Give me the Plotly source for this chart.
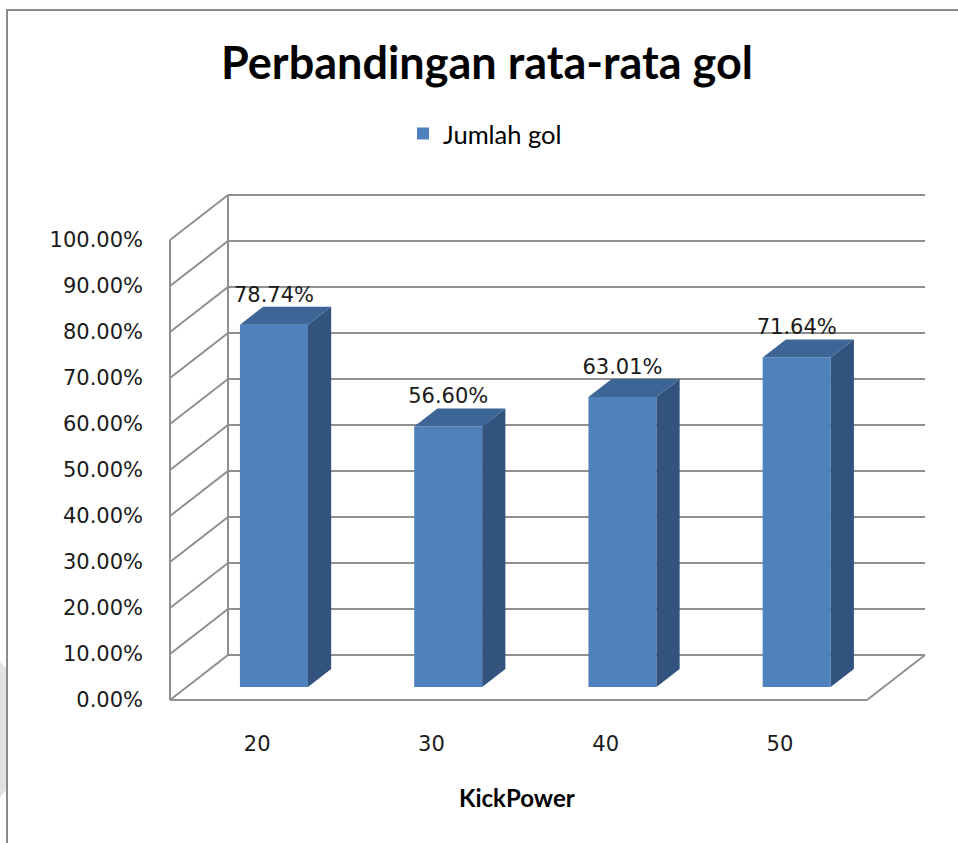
import plotly.graph_objects as go

# ---------------- data ----------------
categories = ["20", "30", "40", "50"]
values = [0.7874, 0.5660, 0.6301, 0.7164]
series_name = "Jumlah gol"
y_ticks = [i / 10 for i in range(11)]
y_tick_labels = [f"{v:.2%}" for v in y_ticks]
title_text = "Perbandingan rata-rata gol"
x_title = "KickPower"

# ---------------- geometry (styling) ----------------
W, H = 958, 843
PX_CAT = 174.25          # pixels per category
PX_UNIT = 460.0          # pixels per 100%
DEPTH_PX = (58, 45)      # pseudo-3D depth offset in pixels
FRONT_LEFT, FRONT_BOTTOM = 170, 700
PAD = 8

dx = DEPTH_PX[0] / PX_CAT
dy = DEPTH_PX[1] / PX_UNIT
n = len(categories)
xs = list(range(n))

x_lo = -0.5 - PAD / PX_CAT
x_hi = n - 0.5 + dx + PAD / PX_CAT
y_lo = -PAD / PX_UNIT
y_hi = 1 + dy + PAD / PX_UNIT

m_l = FRONT_LEFT - PAD
m_r = W - (FRONT_LEFT + n * PX_CAT + DEPTH_PX[0] + PAD)
m_b = H - (FRONT_BOTTOM + PAD)
m_t = FRONT_BOTTOM - PX_UNIT - DEPTH_PX[1] - PAD
plot_w = W - m_l - m_r
plot_h = H - m_t - m_b


def paper_x(px):
    return (px - m_l) / plot_w


def paper_y(py):
    return (H - m_b - py) / plot_h


front_col = "#4F81BD"
side_col = "#31537E"
top_col = "#3D6595"
grid_col = "#8F8F8F"
text_col = "#1A1A1A"

bar_front = 0.29   # fraction of depth where bar front sits
bar_depth = 0.40   # fraction of depth the bar occupies
bar_w = 68 / PX_CAT

bx = [x + bar_front * dx for x in xs]
base = bar_front * dy
ddx, ddy = bar_depth * dx, bar_depth * dy

fig = go.Figure()

# front faces
fig.add_trace(go.Bar(
    x=bx, y=values, base=base, width=bar_w, name=series_name,
    marker=dict(color=front_col, line=dict(width=0)), showlegend=True,
    hoverinfo="skip",
))

# side & top faces
sx, sy, tx, ty = [], [], [], []
for c, v in zip(bx, values):
    xl, xr = c - bar_w / 2, c + bar_w / 2
    yb, yt = base, base + v
    sx += [xr, xr + ddx, xr + ddx, xr, xr, None]
    sy += [yb, yb + ddy, yt + ddy, yt, yb, None]
    tx += [xl, xr, xr + ddx, xl + ddx, xl, None]
    ty += [yt, yt, yt + ddy, yt + ddy, yt, None]
fig.add_trace(go.Scatter(x=sx, y=sy, mode="lines", fill="toself", fillcolor=side_col,
                         line=dict(width=0, color=side_col), showlegend=False, hoverinfo="skip"))
fig.add_trace(go.Scatter(x=tx, y=ty, mode="lines", fill="toself", fillcolor=top_col,
                         line=dict(width=0, color=top_col), showlegend=False, hoverinfo="skip"))

# data labels
fig.add_trace(go.Scatter(
    x=bx, y=[base + v + ddy for v in values], mode="text",
    text=[f"{v:.2%}" for v in values], textposition="top center",
    textfont=dict(family="DejaVu Sans", size=21, color=text_col),
    showlegend=False, hoverinfo="skip",
))

# walls / gridlines
shapes = []
line = dict(color=grid_col, width=2)
left = -0.5
right = n - 0.5
for v in y_ticks:
    shapes.append(dict(type="line", xref="x", yref="y", x0=left + dx, y0=v + dy,
                       x1=right + dx, y1=v + dy, line=line, layer="below"))
    shapes.append(dict(type="line", xref="x", yref="y", x0=left, y0=v,
                       x1=left + dx, y1=v + dy, line=line, layer="below"))
shapes.append(dict(type="line", xref="x", yref="y", x0=left, y0=0, x1=left, y1=1, line=line, layer="below"))
shapes.append(dict(type="line", xref="x", yref="y", x0=left + dx, y0=dy, x1=left + dx, y1=1 + dy,
                   line=line, layer="below"))
shapes.append(dict(type="line", xref="x", yref="y", x0=left, y0=0, x1=right, y1=0, line=line, layer="below"))
shapes.append(dict(type="line", xref="x", yref="y", x0=right, y0=0, x1=right + dx, y1=dy, line=line, layer="below"))

# outer chart border
shapes.append(dict(type="rect", xref="paper", yref="paper",
                   x0=paper_x(7), y0=paper_y(H + 10), x1=paper_x(W + 10), y1=paper_y(10),
                   line=dict(color="#8A8A8A", width=2), fillcolor="rgba(0,0,0,0)", layer="below"))
# faint watermark fragment at the left edge
shapes.append(dict(type="path", xref="paper", yref="paper",
                   path=(f"M {paper_x(0)},{paper_y(662)} L {paper_x(6)},{paper_y(668)} "
                         f"L {paper_x(6)},{paper_y(790)} L {paper_x(0)},{paper_y(797)} Z"),
                   fillcolor="#E2E2E2", line=dict(width=0), layer="below"))

fig.update_layout(
    width=W, height=H,
    margin=dict(l=m_l, r=m_r, t=m_t, b=m_b, pad=0),
    plot_bgcolor="white", paper_bgcolor="white",
    shapes=shapes,
    title=dict(text=f"<b>{title_text}</b>", x=487 / W, xref="container", xanchor="center",
               y=1 - 63 / H, yref="container", yanchor="middle",
               font=dict(family="Lato", size=45, color="#000")),
    legend=dict(orientation="h", xref="container", yref="container",
                x=403 / W, xanchor="left", y=1 - 134 / H, yanchor="middle",
                font=dict(family="Lato", size=25.5, color="#000"), itemwidth=30,
                bgcolor="rgba(0,0,0,0)"),
    xaxis=dict(range=[x_lo, x_hi], tickvals=xs, ticktext=categories,
               showgrid=False, zeroline=False, showline=False, ticks="",
               ticklabelstandoff=21,
               tickfont=dict(family="DejaVu Sans", size=21, color=text_col), fixedrange=True),
    yaxis=dict(range=[y_lo, y_hi], tickvals=y_ticks, ticktext=y_tick_labels,
               showgrid=False, zeroline=False, showline=False, ticks="",
               ticklabelstandoff=18,
               tickfont=dict(family="DejaVu Sans", size=21, color=text_col), fixedrange=True),
    annotations=[dict(text=f"<b>{x_title}</b>", xref="paper", yref="paper",
                      x=paper_x(517), y=paper_y(797), showarrow=False,
                      font=dict(family="Lato", size=24, color="#000"),
                      xanchor="center", yanchor="middle")],
)

fig.write_html("out.html")
